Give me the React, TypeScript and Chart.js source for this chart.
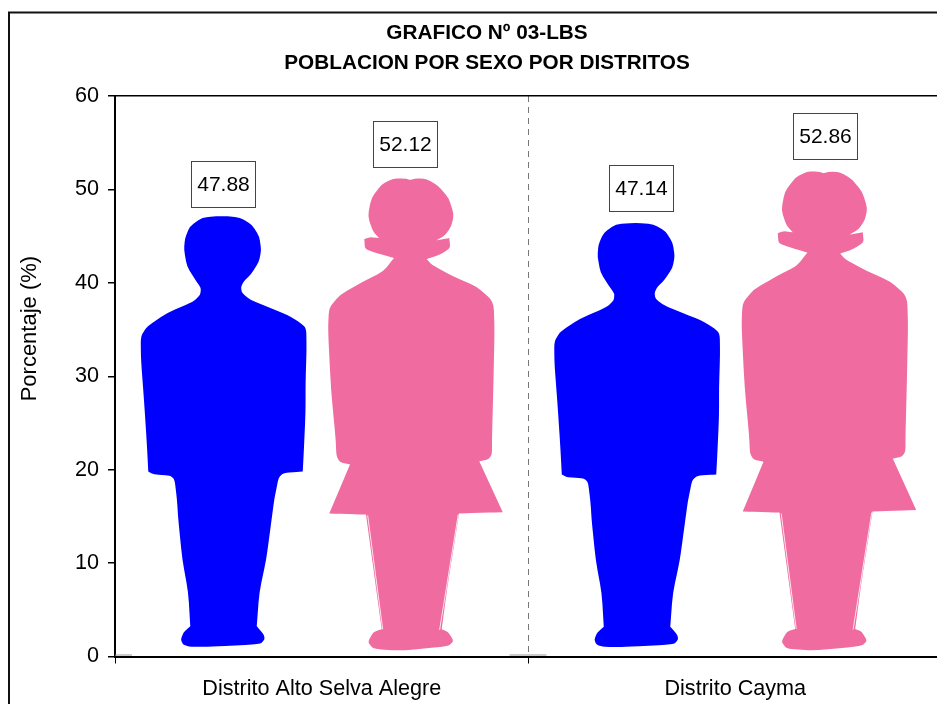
import React, { useEffect, useRef } from "react";
import { Chart, registerables } from "chart.js";

Chart.register(...registerables);

const categories = ["Distrito Alto Selva Alegre", "Distrito Cayma"];
const seriesNames = ["Hombres", "Mujeres"];
const maleValues = [47.88, 47.14];
const femaleValues = [52.12, 52.86];
const yTicks = [0, 10, 20, 30, 40, 50, 60];
const titleLines = ["GRAFICO Nº 03-LBS", "POBLACION POR SEXO POR DISTRITOS"];
const yTitle = "Porcentaje (%)";

const BLUE = "#0000FF";
const PINK = "#EF6BA0";
const FONT = "'Liberation Sans', Arial, sans-serif";
const FS = 21;
const AXIS_FS = 21.6;

type P = [number, number];

// Silhouettes traced in a picture frame, then made relative to the bar's box (0..1).
// A repeated point keeps a sharp corner when the outline is smoothed.
const unit = (pts: P[], ox: number, oy: number, w: number, h: number): P[] =>
  pts.map(([x, y]) => [(x - ox) / w, (y - oy) / h]);

const MALE_SHAPE = unit(
  [
    [222, 216], [240, 217.5], [252, 225], [259, 236.7], [261, 250], [258.8, 261.7], [251, 274],
    [243.3, 281.7], [240.7, 287.3], [241.7, 293.3], [250, 300], [270, 308.3], [286.7, 315], [298.3, 321.7],
    [306, 328.3], [306.3, 350], [305.3, 383], [305.3, 413], [303.5, 453], [302.5, 472], [302.5, 472], [283.3, 473.3],
    [278.3, 478.3], [276, 490], [274, 500], [270, 530], [266, 560], [259, 593], [256.5, 627], [256.5, 627], [263.5, 635],
    [264.5, 640], [260, 645], [210, 647.5], [190, 647.5], [182.7, 645.5], [180.5, 640], [183.3, 633], [190, 627], [190, 627],
    [188, 593], [182, 560], [178, 520], [176.7, 500], [174.3, 480], [170, 476], [153.3, 475], [148, 472], [148, 472],
    [146.5, 443], [143.7, 400], [140.7, 360], [140.4, 336.7], [146.7, 326.7], [166.7, 313.3], [193.3, 301.7],
    [200, 295], [200.7, 288.3], [195, 280], [186.7, 266.7], [183.7, 250], [184.7, 238.3], [189.5, 226.7], [201.7, 217.5],
  ],
  132.5, 209.3, 189, 447.2
);

const FEMALE_SHAPE = unit(
  [
    [410, 180], [410, 180], [416.7, 178.5], [426.7, 179], [438.3, 186], [448.8, 198.3], [454, 215], [451.2, 226.7],
    [445, 235.5], [436, 240.7], [436, 240.7], [449.3, 238.3], [449.3, 238.3], [450.3, 248.3], [440, 255], [426.7, 259.3], [426.7, 259.3], [431.7, 265],
    [453.3, 276.7], [476.7, 286.7], [493.6, 301.7], [494.6, 330], [493.3, 390], [492, 440], [492, 455],
    [488.3, 460], [479.3, 461.7], [479.3, 461.7], [502.7, 512.7], [502.7, 512.7], [459, 514], [459, 514], [455.5, 536.7], [447.5, 586.7], [441.7, 630], [441.7, 630],
    [448.3, 632.7], [453.7, 641.7], [448.3, 647], [400, 651.5], [373.3, 649.6], [367.8, 642.7], [373.3, 632.7],
    [381.7, 630], [381.7, 630], [376.7, 593.3], [366, 515], [366, 515], [329.3, 514], [329.3, 514], [350, 465], [350, 465], [340, 462.7], [336.4, 456.7], [335.7, 440],
    [331, 390], [328, 330], [329, 308.3], [340, 295], [363.3, 281.7], [383.3, 271.7], [394, 258.3], [394, 258.3],
    [376.7, 253.3], [365, 249.3], [364.3, 239.3], [364.3, 239.3], [370, 237.3], [379.3, 238.3], [379.3, 238.3], [373, 231.7], [367.8, 216.7],
    [371.2, 198.3], [381.7, 184.5], [393.3, 178.5], [405, 178.5],
  ],
  321.75, 169.7, 189, 486.8
);

const FEMALE_SLIVERS = [
  unit([[367.7, 516], [382.7, 630]], 321.75, 169.7, 189, 486.8),
  unit([[458.3, 515], [439.6, 630.7]], 321.75, 169.7, 189, 486.8),
];

// Hand-placed label nudges of the original, by series and category.
const labelNudgeX = [[-4, 0], [-11, -4.75]];
const labelGap = [[2.6, 5], [3, 4]];

const pictogramPlugin = {
  id: "pictograms",
  afterDatasetsDraw(chart: any) {
    const ctx = chart.ctx;
    [MALE_SHAPE, FEMALE_SHAPE].forEach((shape, ds) => {
      chart.getDatasetMeta(ds).data.forEach((el: any) => {
        const { x, y, base, width } = el.getProps(["x", "y", "base", "width"], true);
        const h = base - y;
        const left = x - width / 2;
        const pts = shape.map(([u, v]) => [left + u * width, y + v * h]);
        const k = 0.3;
        ctx.save();
        ctx.fillStyle = ds === 0 ? BLUE : PINK;
        ctx.beginPath();
        const n = pts.length;
        pts.forEach((p, i) => {
          const a = pts[(i + n - 1) % n];
          const b = pts[(i + 1) % n];
          const ax = p[0] + (a[0] - p[0]) * k;
          const ay = p[1] + (a[1] - p[1]) * k;
          if (i === 0) ctx.moveTo(ax, ay);
          else ctx.lineTo(ax, ay);
          ctx.quadraticCurveTo(p[0], p[1], p[0] + (b[0] - p[0]) * k, p[1] + (b[1] - p[1]) * k);
        });
        ctx.closePath();
        ctx.fill();
        if (ds === 1) {
          ctx.strokeStyle = "#FFE4EE";
          ctx.lineWidth = 1;
          FEMALE_SLIVERS.forEach((s) => {
            ctx.beginPath();
            ctx.moveTo(left + s[0][0] * width, y + s[0][1] * h);
            ctx.lineTo(left + s[1][0] * width, y + s[1][1] * h);
            ctx.stroke();
          });
        }
        ctx.restore();
      });
    });
  },
};

const labelsPlugin = {
  id: "boxedLabels",
  afterDraw(chart: any) {
    const ctx = chart.ctx;
    chart.data.datasets.forEach((d: any, ds: number) => {
      chart.getDatasetMeta(ds).data.forEach((el: any, i: number) => {
        const { x, y } = el.getProps(["x", "y"], true);
        const w = 64;
        const h = 46;
        const cx = x + labelNudgeX[ds][i];
        const bottom = y - labelGap[ds][i];
        ctx.save();
        ctx.fillStyle = "#fff";
        ctx.strokeStyle = "#444";
        ctx.lineWidth = 1;
        const l = Math.round(cx - w / 2) + 0.5;
        const t = Math.round(bottom - h) + 0.5;
        ctx.fillRect(l, t, w, h);
        ctx.strokeRect(l, t, w, h);
        ctx.fillStyle = "#000";
        ctx.font = `${FS}px ${FONT}`;
        ctx.textAlign = "center";
        ctx.textBaseline = "middle";
        ctx.fillText(d.data[i].toFixed(2), l + w / 2, t + h / 2 + 1);
        ctx.restore();
      });
    });
  },
};

const framePlugin = {
  id: "frame",
  beforeDraw(chart: any) {
    const ctx = chart.ctx;
    ctx.save();
    ctx.fillStyle = "#fff";
    ctx.fillRect(0, 0, chart.width, chart.height);
    ctx.strokeStyle = "#111";
    ctx.lineWidth = 2;
    ctx.strokeRect(9, 12.5, chart.width - 18, chart.height - 20);
    ctx.restore();
  },
  afterDraw(chart: any) {
    const ctx = chart.ctx;
    const area = chart.chartArea;
    const y = chart.scales.y;
    const x = chart.scales.x;
    ctx.save();
    // faint grey strokes the original shows on the axis at category boundaries
    ctx.strokeStyle = "#999";
    ctx.lineWidth = 1;
    const base = y.getPixelForValue(0) - 1.5;
    const mid = x.getPixelForValue(0.5);
    ctx.beginPath();
    ctx.moveTo(x.left, base);
    ctx.lineTo(x.left + 17, base);
    ctx.moveTo(mid - 19, base);
    ctx.lineTo(mid + 18, base);
    ctx.stroke();
    ctx.fillStyle = "#000";
    ctx.font = `22px ${FONT}`;
    ctx.textAlign = "center";
    ctx.textBaseline = "middle";
    ctx.translate(area.left - 85, y.getPixelForValue(35.1));
    ctx.rotate(-Math.PI / 2);
    ctx.fillText(yTitle, 0, 0);
    ctx.restore();
  },
};

export default function App() {
  const ref = useRef<HTMLCanvasElement>(null);
  useEffect(() => {
    const chart = new Chart(ref.current!, {
      type: "bar",
      data: {
        labels: categories,
        datasets: [
          { label: seriesNames[0], data: maleValues, backgroundColor: "transparent" },
          { label: seriesNames[1], data: femaleValues, backgroundColor: "transparent" },
        ],
      },
      options: {
        responsive: false,
        animation: false,
        layout: { padding: { left: 32, right: 32, top: 0, bottom: 0 } },
        datasets: { bar: { barPercentage: 1, categoryPercentage: 0.914 } },
        plugins: {
          legend: { display: false },
          tooltip: { enabled: false },
          title: {
            display: true,
            text: titleLines,
            color: "#000",
            font: { family: FONT, size: 20.75, weight: "bold", lineHeight: 30 / 20.75 },
            padding: { top: 18, bottom: 18 },
          },
        },
        scales: {
          x: {
            afterFit: (s: any) => {
              s.height = 73.5;
            },
            ticks: { color: "#000", font: { family: FONT, size: AXIS_FS }, padding: 13 },
            grid: {
              color: "#777",
              tickColor: "#000",
              tickLength: 7,
              lineWidth: 1,
              tickBorderDash: [],
            },
            border: { display: true, color: "#000", width: 2, dash: [6, 5] },
          },
          y: {
            min: 0,
            max: 60,
            afterFit: (s: any) => {
              s.width = 83;
            },
            afterBuildTicks: (s: any) => {
              s.ticks = yTicks.map((value) => ({ value }));
            },
            ticks: { color: "#000", font: { family: FONT, size: AXIS_FS }, padding: 9 },
            grid: {
              color: (c: any) => (c.tick && c.tick.value === 60 ? "#000" : "transparent"),
              tickColor: "#000",
              tickLength: 7,
              lineWidth: 1.5,
            },
            border: { display: true, color: "#000", width: 2 },
          },
        },
      },
      plugins: [framePlugin, pictogramPlugin, labelsPlugin],
    } as any);
    return () => chart.destroy();
  }, []);
  return (
    <div style={{ position: "fixed", inset: 0, overflow: "hidden", background: "#fff" }}>
      <canvas ref={ref} width={974} height={730} style={{ display: "block" }} />
    </div>
  );
}
